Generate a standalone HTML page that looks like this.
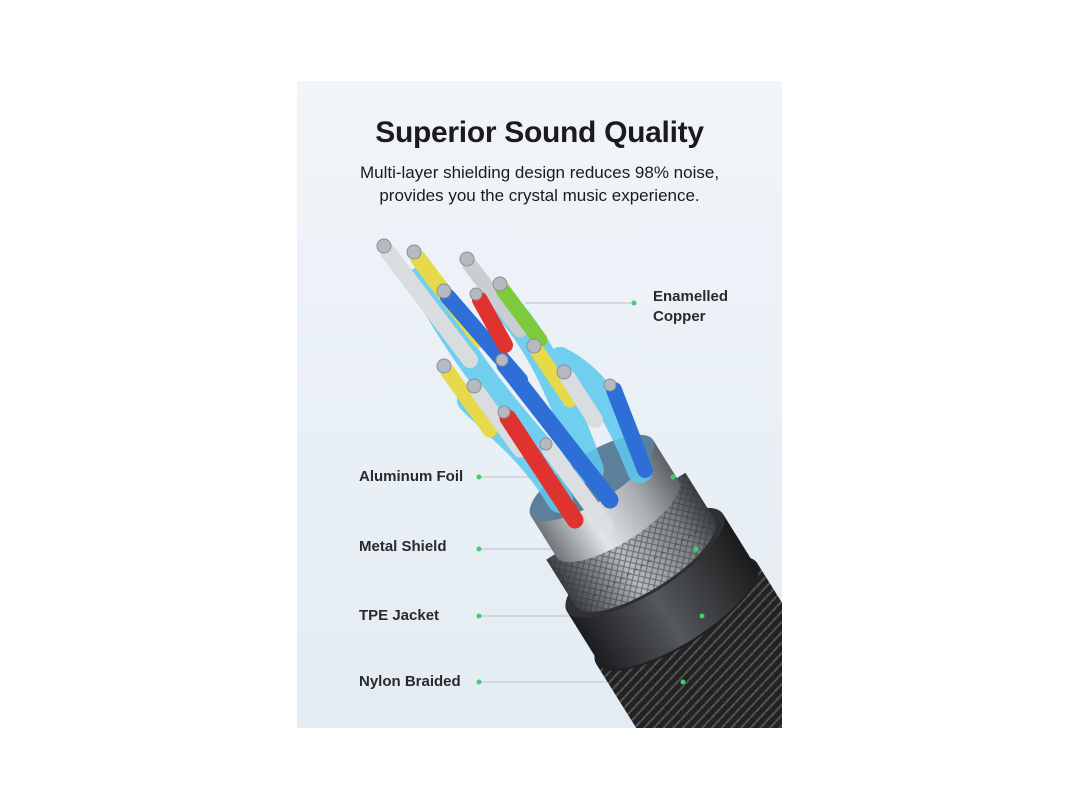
<!DOCTYPE html>
<html><head><meta charset="utf-8"><style>
html,body{margin:0;padding:0;background:#fff;width:1080px;height:810px;overflow:hidden}
.panel{position:absolute;left:297px;top:81px;width:485px;height:647px;overflow:hidden;
background:linear-gradient(180deg,#f1f5f9 0%,#e9f0f6 50%,#e4ecf3 100%)}
.t{position:absolute;font-family:"Liberation Sans",sans-serif;color:#1b1b1b;white-space:nowrap}
svg{position:absolute;left:0;top:0}
</style></head><body>
<div class="panel">
<svg width="485" height="647" viewBox="297 81 485 647">
<defs>
<linearGradient id="foil" x1="0" x2="1"><stop offset="0" stop-color="#6f747a"/><stop offset=".35" stop-color="#e4e7ea"/><stop offset=".7" stop-color="#a9adb2"/><stop offset="1" stop-color="#5d6166"/></linearGradient>
<linearGradient id="braid" x1="0" x2="1"><stop offset="0" stop-color="#3c3f43"/><stop offset=".4" stop-color="#b8bcc0"/><stop offset=".8" stop-color="#7b7f84"/><stop offset="1" stop-color="#3a3d40"/></linearGradient>
<linearGradient id="tpe" x1="0" x2="1"><stop offset="0" stop-color="#1c1d1f"/><stop offset=".45" stop-color="#55585c"/><stop offset="1" stop-color="#1a1b1c"/></linearGradient>
<pattern id="weave" width="10" height="10" patternUnits="userSpaceOnUse" patternTransform="rotate(30)"><rect width="10" height="10" fill="#222"/><path d="M0 5L5 0M5 10L10 5" stroke="#555" stroke-width="2"/></pattern>
<pattern id="mesh" width="8" height="8" patternUnits="userSpaceOnUse"><rect width="8" height="8" fill="none"/><path d="M0 0L8 8M8 0L0 8" stroke="#333" stroke-width="1.2" opacity=".5"/></pattern>
</defs>
<g stroke="#b9c2ca" stroke-width="1">
<line x1="525" y1="303" x2="634" y2="303"/>
<line x1="480" y1="477" x2="673" y2="477"/>
<line x1="480" y1="549" x2="696" y2="549"/>
<line x1="480" y1="616" x2="702" y2="616"/>
<line x1="480" y1="682" x2="683" y2="682"/>
</g>
<g transform="translate(592,478) rotate(-32)">
<!-- nylon -->
<rect x="-95" y="160" width="190" height="400" fill="url(#weave)"/>
<ellipse cx="0" cy="160" rx="95" ry="32" fill="#1f2022"/>
<!-- tpe -->
<rect x="-92" y="100" width="184" height="62" fill="url(#tpe)"/>
<path d="M-92 160 A92 30 0 0 0 92 160 Z" fill="url(#tpe)"/>
<ellipse cx="0" cy="100" rx="92" ry="30" fill="#2e3033"/>
<!-- braid -->
<rect x="-82" y="45" width="164" height="57" fill="url(#braid)"/>
<path d="M-82 100 A82 27 0 0 0 82 100 Z" fill="url(#braid)"/>
<rect x="-82" y="45" width="164" height="57" fill="url(#mesh)"/>
<path d="M-82 100 A82 27 0 0 0 82 100 Z" fill="url(#mesh)"/>
<!-- foil -->
<rect x="-72" y="0" width="144" height="50" fill="url(#foil)"/>
<path d="M-72 48 A72 24 0 0 0 72 48 Z" fill="url(#foil)"/>
<ellipse cx="0" cy="0" rx="72" ry="24" fill="#5d7f99"/>
</g>
<g stroke="#5cc9ee" stroke-linecap="round" fill="none" opacity=".85">
<path d="M420 280 C450 330 470 370 560 470" stroke-width="26"/>
<path d="M500 300 C540 340 560 390 590 470" stroke-width="28"/>
<path d="M470 400 C500 430 530 450 560 500" stroke-width="26"/>
<path d="M560 360 C600 380 620 420 640 470" stroke-width="26"/>
</g>
<g stroke-linecap="round" fill="none">
<line x1="388" y1="252" x2="470" y2="360" stroke="#d9dde0" stroke-width="16"/>
<line x1="418" y1="258" x2="480" y2="340" stroke="#e6d94a" stroke-width="16"/>
<line x1="470" y1="265" x2="520" y2="330" stroke="#c9ced2" stroke-width="15"/>
<line x1="448" y1="297" x2="520" y2="380" stroke="#2d6fd6" stroke-width="16"/>
<line x1="503" y1="290" x2="540" y2="340" stroke="#7fc93c" stroke-width="15"/>
<line x1="480" y1="300" x2="505" y2="345" stroke="#e0322e" stroke-width="16"/>
<line x1="448" y1="372" x2="490" y2="430" stroke="#e6d94a" stroke-width="15"/>
<line x1="478" y1="392" x2="520" y2="450" stroke="#d9dde0" stroke-width="15"/>
<line x1="538" y1="352" x2="570" y2="400" stroke="#e6d94a" stroke-width="15"/>
<line x1="568" y1="378" x2="595" y2="420" stroke="#d9dde0" stroke-width="16"/>
<line x1="614" y1="390" x2="645" y2="470" stroke="#2d6fd6" stroke-width="16"/>
<line x1="505" y1="365" x2="610" y2="500" stroke="#2d6fd6" stroke-width="17"/>
<line x1="508" y1="418" x2="575" y2="520" stroke="#e0322e" stroke-width="17"/>
<line x1="550" y1="450" x2="605" y2="525" stroke="#dcdfe2" stroke-width="16"/>
</g>
<g fill="#b4babf" stroke="#8a9096" stroke-width="1">
<circle cx="384" cy="246" r="7"/><circle cx="414" cy="252" r="7"/><circle cx="467" cy="259" r="7"/>
<circle cx="444" cy="291" r="7"/><circle cx="500" cy="284" r="7"/><circle cx="476" cy="294" r="6"/>
<circle cx="444" cy="366" r="7"/><circle cx="474" cy="386" r="7"/><circle cx="534" cy="346" r="7"/>
<circle cx="564" cy="372" r="7"/><circle cx="610" cy="385" r="6"/><circle cx="502" cy="360" r="6"/>
<circle cx="504" cy="412" r="6"/><circle cx="546" cy="444" r="6"/>
</g>
<g fill="#3fd06c">
<circle cx="634" cy="303" r="2.5"/><circle cx="479" cy="477" r="2.5"/><circle cx="673" cy="477" r="2.5"/>
<circle cx="479" cy="549" r="2.5"/><circle cx="696" cy="549" r="2.5"/>
<circle cx="479" cy="616" r="2.5"/><circle cx="702" cy="616" r="2.5"/>
<circle cx="479" cy="682" r="2.5"/><circle cx="683" cy="682" r="2.5"/>
</g>
</svg>
<div class="t" style="left:0;width:485px;text-align:center;top:35px;font-size:30px;font-weight:bold;letter-spacing:-0.3px">Superior Sound Quality</div>
<div class="t" style="left:0;width:485px;text-align:center;top:80px;font-size:17px;line-height:23px">Multi-layer shielding design reduces 98% noise,<br>provides you the crystal music experience.</div>
<div class="t" style="left:356px;top:206px;font-size:15px;font-weight:bold;line-height:20px;color:#2a2a2a">Enamelled<br>Copper</div>
<div class="t" style="left:62px;top:387px;font-size:15px;font-weight:bold;color:#2a2a2a">Aluminum Foil</div>
<div class="t" style="left:62px;top:457px;font-size:15px;font-weight:bold;color:#2a2a2a">Metal Shield</div>
<div class="t" style="left:62px;top:526px;font-size:15px;font-weight:bold;color:#2a2a2a">TPE Jacket</div>
<div class="t" style="left:62px;top:592px;font-size:15px;font-weight:bold;color:#2a2a2a">Nylon Braided</div>
</div>
</body></html>
